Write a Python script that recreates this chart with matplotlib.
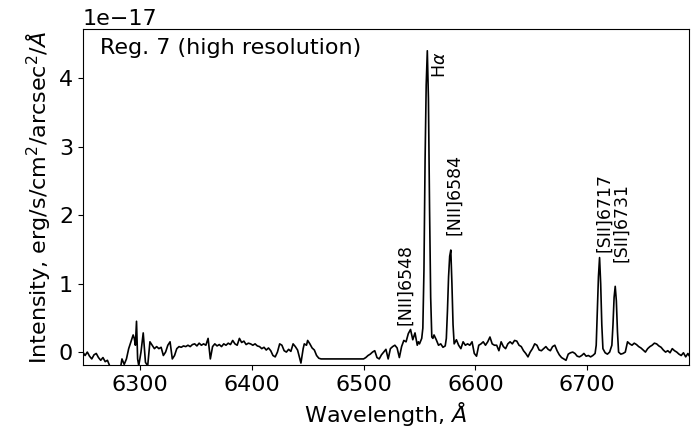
import numpy as np
import matplotlib
matplotlib.use("Agg")
import matplotlib.pyplot as plt

# spectrum, flux in units of 1e-17
wave = [6249, 6251, 6253, 6255, 6257, 6259, 6261, 6263, 6265, 6267, 6269, 6271,
        6273, 6275, 6277, 6279, 6281, 6283, 6284, 6286, 6288, 6290, 6292, 6294,
        6295, 6296, 6297, 6298, 6299, 6301, 6303, 6305, 6307, 6309, 6311, 6313,
        6315, 6317, 6319, 6321, 6323, 6325, 6327, 6329, 6331, 6333, 6335, 6337,
        6339, 6341, 6343, 6345, 6347, 6349, 6351, 6353, 6355, 6357, 6359, 6361,
        6363, 6365, 6367, 6369, 6371, 6373, 6375, 6377, 6379, 6381, 6383, 6385,
        6387, 6389, 6391, 6393, 6395, 6397, 6399, 6401, 6403, 6405, 6407, 6409,
        6411, 6413, 6415, 6417, 6419, 6421, 6423, 6425, 6427, 6429, 6431, 6433,
        6435, 6437, 6439, 6441, 6443, 6444, 6446, 6447, 6449, 6450, 6452, 6454,
        6456, 6458, 6460, 6462, 6500, 6502, 6504, 6506, 6508, 6510, 6512, 6514,
        6516, 6518, 6520, 6522, 6524, 6526, 6528, 6530, 6532, 6534, 6536, 6538,
        6540, 6542, 6544, 6546, 6548, 6549, 6550, 6552, 6553, 6554, 6555, 6556,
        6557, 6558, 6559, 6560, 6561, 6562, 6563, 6565, 6567, 6569, 6571, 6573,
        6574, 6575, 6576, 6577, 6578, 6579, 6580, 6581, 6583, 6585, 6587, 6589,
        6591, 6593, 6595, 6597, 6599, 6601, 6603, 6605, 6607, 6609, 6611, 6613,
        6615, 6617, 6619, 6621, 6623, 6625, 6627, 6629, 6631, 6633, 6635, 6637,
        6639, 6641, 6643, 6645, 6647, 6649, 6651, 6653, 6655, 6657, 6659, 6661,
        6663, 6665, 6667, 6669, 6671, 6673, 6675, 6677, 6679, 6681, 6683, 6685,
        6687, 6689, 6691, 6693, 6695, 6697, 6699, 6701, 6703, 6705, 6707, 6708,
        6709, 6710, 6711, 6712, 6713, 6714, 6716, 6718, 6720, 6722, 6723, 6724,
        6725, 6726, 6727, 6728, 6730, 6732, 6734, 6736, 6738, 6740, 6742, 6744,
        6746, 6748, 6750, 6752, 6754, 6756, 6758, 6760, 6762, 6764, 6766, 6768,
        6770, 6772, 6774, 6776, 6778, 6780, 6782, 6784, 6786, 6788, 6790, 6791]
flux = [0.00, -0.05, 0.00, -0.06, -0.10, -0.04, -0.02, -0.08, -0.12, -0.08, -0.14, -0.12,
        -0.20, -0.22, -0.21, -0.22, -0.21, -0.20, -0.10, -0.18, -0.10, 0.05, 0.15, 0.25,
        0.20, 0.10, 0.45, -0.10, -0.20, 0.00, 0.28, -0.15, -0.20, 0.15, 0.10, 0.05,
        0.08, 0.05, 0.07, -0.05, 0.00, 0.10, 0.15, -0.10, -0.05, 0.05, 0.08, 0.07,
        0.09, 0.08, 0.10, 0.08, 0.11, 0.12, 0.09, 0.13, 0.10, 0.12, 0.10, 0.20,
        -0.10, 0.08, 0.12, 0.09, 0.11, 0.08, 0.12, 0.10, 0.13, 0.11, 0.17, 0.12,
        0.10, 0.20, 0.14, 0.16, 0.11, 0.13, 0.12, 0.10, 0.12, 0.09, 0.08, 0.05,
        0.07, 0.03, 0.06, 0.02, -0.05, -0.07, 0.00, 0.12, 0.10, 0.02, 0.00, 0.04,
        0.01, 0.12, 0.08, 0.03, -0.10, -0.16, 0.05, 0.12, 0.10, 0.17, 0.12, 0.06,
        0.03, -0.05, -0.09, -0.10, -0.10, -0.08, -0.05, -0.03, 0.00, 0.02, -0.08, -0.10,
        -0.04, 0.00, 0.04, -0.10, 0.05, 0.08, 0.10, 0.06, -0.08, 0.08, 0.17, 0.15,
        0.27, 0.33, 0.18, 0.28, 0.10, 0.15, 0.12, 0.20, 0.35, 1.20, 2.80, 3.90,
        4.40, 3.70, 2.10, 0.80, 0.22, 0.20, 0.25, 0.18, 0.10, 0.12, 0.07, 0.09,
        0.20, 0.60, 1.10, 1.40, 1.49, 1.00, 0.40, 0.12, 0.18, 0.10, 0.05, 0.15,
        0.10, 0.12, 0.10, 0.15, -0.02, -0.06, 0.10, 0.12, 0.15, 0.10, 0.15, 0.22,
        0.12, 0.10, 0.10, 0.02, 0.15, 0.08, 0.05, 0.12, 0.15, 0.12, 0.17, 0.16,
        0.10, 0.08, 0.02, -0.02, -0.07, 0.00, 0.05, 0.12, 0.10, 0.03, 0.02, 0.05,
        0.08, 0.04, 0.02, 0.08, 0.10, 0.02, -0.04, -0.08, -0.10, -0.12, -0.03, -0.01,
        0.00, -0.02, -0.06, -0.07, -0.05, -0.02, -0.06, -0.05, -0.07, -0.05, -0.02, 0.10,
        0.60, 1.10, 1.38, 1.00, 0.40, 0.05, -0.01, -0.03, 0.00, 0.10, 0.40, 0.80,
        0.96, 0.75, 0.30, 0.00, -0.03, -0.02, 0.00, 0.15, 0.12, 0.10, 0.13, 0.11,
        0.08, 0.06, 0.03, 0.00, 0.05, 0.08, 0.10, 0.13, 0.12, 0.09, 0.07, 0.03,
        0.00, 0.02, -0.01, 0.05, 0.02, 0.00, -0.03, -0.05, -0.01, -0.07, -0.02, -0.05]

# line labels: text, x position (A), y bottom (1e-17)
line_names = ["[NII]6548", "H$\\alpha$", "[NII]6584", "[SII]6717", "[SII]6731"]
line_x = [6537, 6568, 6581, 6715, 6730]
line_y = [0.39, 4.0, 1.71, 1.46, 1.31]

fig = plt.figure(figsize=(6.96, 4.42), dpi=100)
ax = fig.add_axes([0.119, 0.174, 0.871, 0.760])

ax.plot(wave, np.array(flux) * 1e-17, color="black", lw=1.2)

for name, x, y in zip(line_names, line_x, line_y):
    ax.text(x, y * 1e-17, name, rotation=90, ha="center", va="bottom", fontsize=12.5)

ax.text(0.028, 0.975, "Reg. 7 (high resolution)", transform=ax.transAxes,
        ha="left", va="top", fontsize=16)

ax.set_xlim(6249, 6791)
ax.set_ylim(-0.19e-17, 4.715e-17)
ax.set_xticks([6300, 6400, 6500, 6600, 6700])
ax.tick_params(labelsize=16)
ax.yaxis.get_offset_text().set_fontsize(16)
ax.set_xlabel("Wavelength, $\\AA$", fontsize=16)
ax.set_ylabel("Intensity, erg/s/cm$^2$/arcsec$^2$/$\\AA$", fontsize=16)

fig.savefig("out.png", dpi=100)
